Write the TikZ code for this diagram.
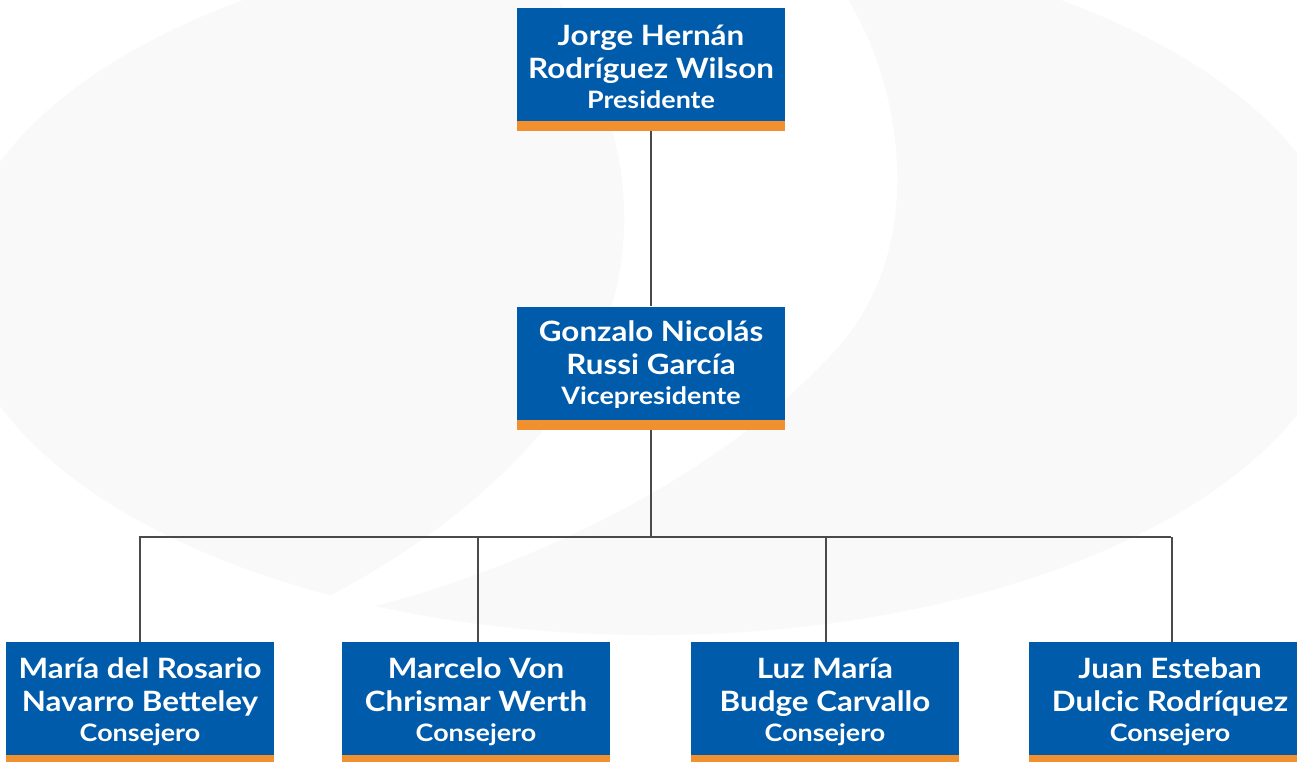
\documentclass[tikz,border=0pt]{standalone}
\usepackage{fontspec}
\setmainfont{Lato}[FakeStretch=1.12]
\definecolor{boxblue}{HTML}{005BAA}
\definecolor{boxorange}{HTML}{F0902E}
\definecolor{linegray}{HTML}{4A4A4A}
\definecolor{bggray}{HTML}{F9F9F9}
\newcommand{\nmfont}{\fontsize{28}{32}\selectfont\bfseries}
\newcommand{\rlfont}{\fontsize{24}{32}\selectfont\bfseries}
\newcommand{\boxtext}[4]{\rule{0pt}{32pt}#1\\[1pt]#2\\[-2pt]\rlfont #3\rule[-#4pt]{0pt}{#4pt}}
\begin{document}
\begin{tikzpicture}[x=1pt,y=-1pt,
  orgbox/.style={rectangle, fill=boxblue, minimum width=268pt, minimum height=113pt,
    inner sep=0pt, text=white, align=center, font=\nmfont},
  bar/.style={fill=boxorange},
  conn/.style={draw=linegray, line width=2.8pt}]
\clip (0,0) rectangle (1297,761);
\fill[white] (0,0) rectangle (1297,761);
% background shapes
\fill[bggray] (652,284) ellipse [x radius=695pt, y radius=351pt];
\fill[white] (556,-5) .. controls (625,120) and (665,260) .. (560,410)
  .. controls (490,500) and (400,560) .. (318,602)
  -- (367,608)
  .. controls (520,570) and (720,480) .. (840,345)
  .. controls (930,240) and (900,80) .. (845,-5) -- cycle;
% boxes
\node[orgbox] (pres) at (651,64.5) {\boxtext{Jorge Hernán}{Rodríguez Wilson}{Presidente}{8}};
\node[orgbox] (vice) at (651,363) {\boxtext{Gonzalo Nicolás}{Russi García}{Vicepresidente}{12}};
\node[orgbox] (c1) at (140,698.5) {\boxtext{María del Rosario}{Navarro Betteley}{Consejero}{10}};
\node[orgbox] (c2) at (476,698.5) {\boxtext{Marcelo Von}{Chrismar Werth}{Consejero}{10}};
\node[orgbox] (c3) at (825,698.5) {\boxtext{Luz María}{Budge Carvallo}{Consejero}{10}};
\node[orgbox, minimum width=282pt] (c4) at (1170,698.5) {\boxtext{Juan Esteban}{Dulcic Rodríquez}{Consejero}{10}};
% connectors
\coordinate (hub) at (651,537);
\draw[conn] (pres.south) -- (vice.north);
\draw[conn] (vice.south) -- (hub);
\draw[conn] ([xshift=-1.4pt]c1.north |- hub) -- ([xshift=1.4pt]c4.north |- hub);
\draw[conn] (c1.north |- hub) -- (c1.north);
\draw[conn] ([xshift=2pt]c2.north |- hub) -- ([xshift=2pt]c2.north);
\draw[conn] ([xshift=1pt]c3.north |- hub) -- ([xshift=1pt]c3.north);
\draw[conn] ([xshift=2pt]c4.north |- hub) -- ([xshift=2pt]c4.north);
% orange bars
\foreach \b in {pres,vice,c1,c2,c3,c4}
  \fill[bar] (\b.south west) rectangle ([yshift=-10pt]\b.south east);
\end{tikzpicture}
\end{document}
